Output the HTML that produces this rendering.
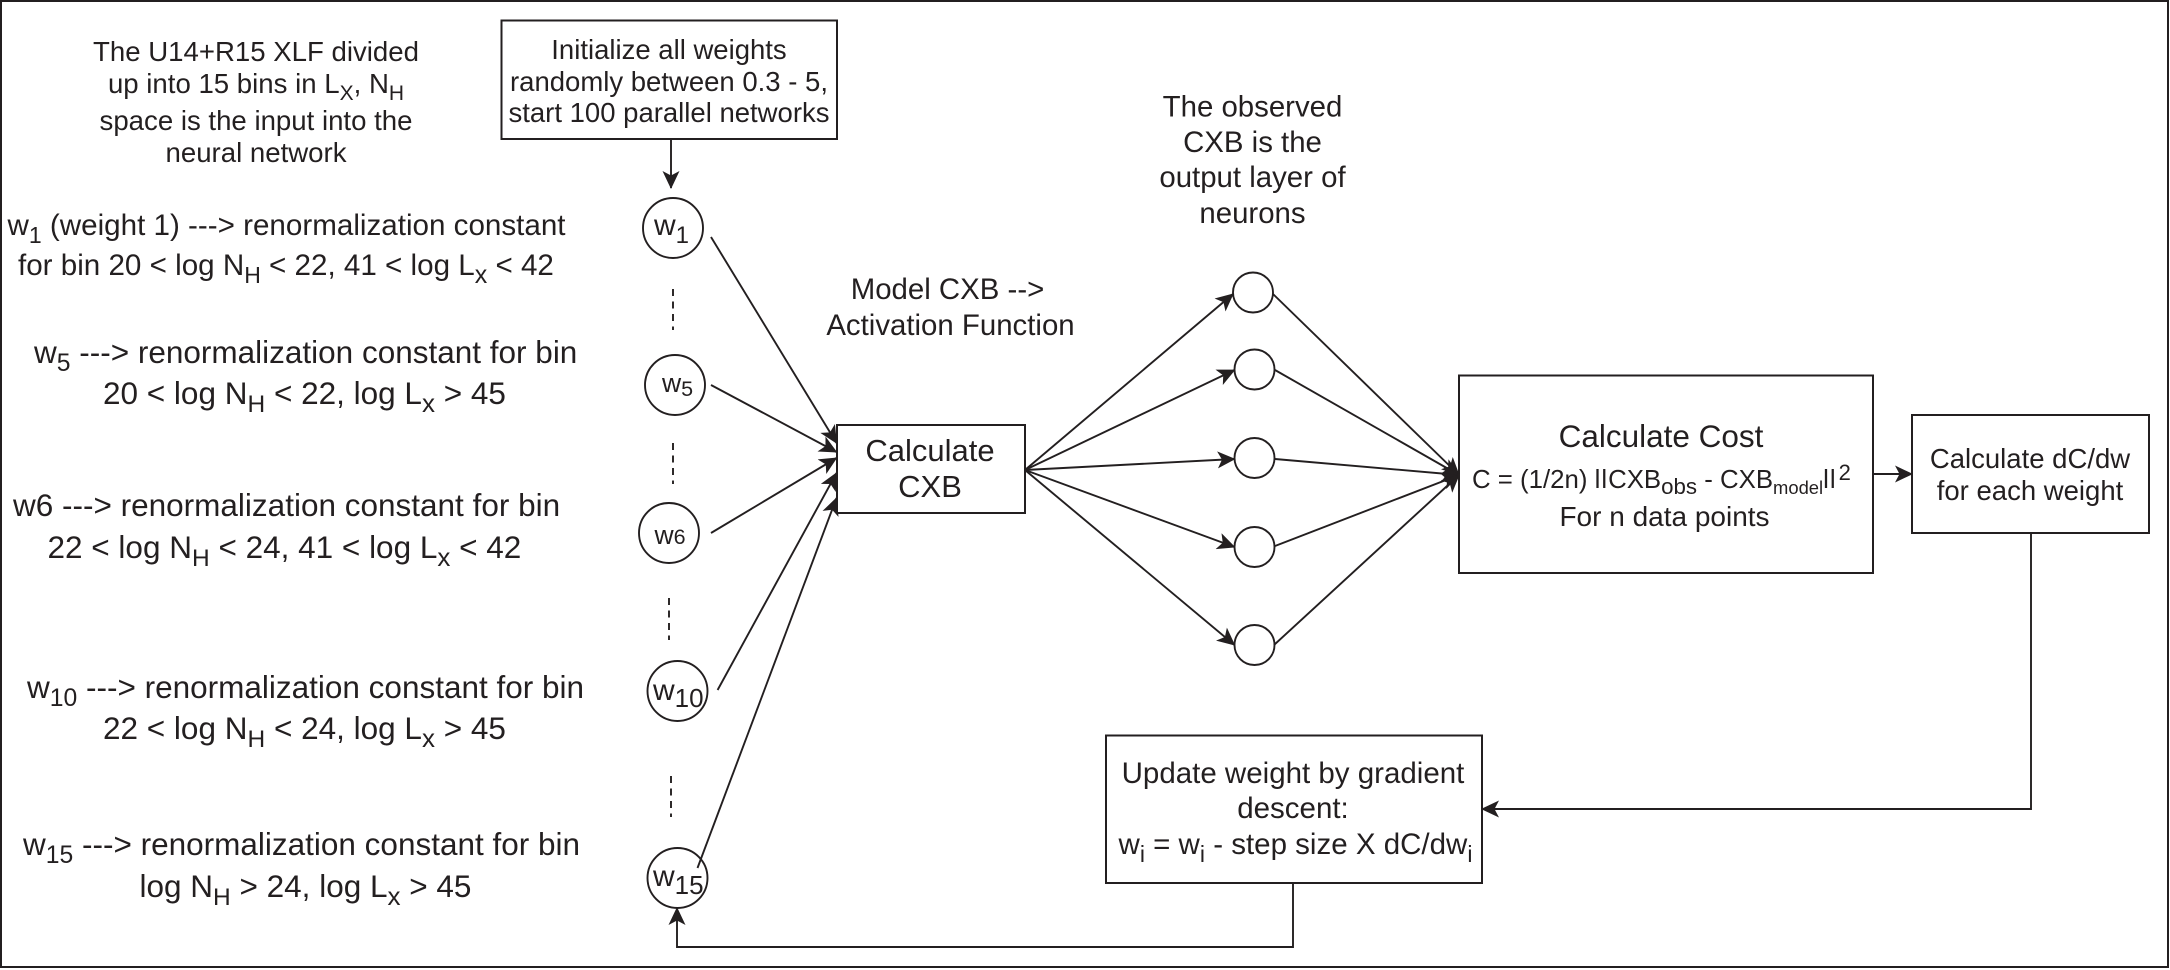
<!DOCTYPE html>
<html><head><meta charset="utf-8"><style>
html,body{margin:0;padding:0;background:#fff}
svg{display:block}
text{font-family:"Liberation Sans",Arial,sans-serif;fill:#231f20}
.l{fill:none;stroke:#231f20;stroke-width:1.9}
.b{fill:#fff;stroke:#231f20;stroke-width:2}
.d{fill:none;stroke:#231f20;stroke-width:1.9;stroke-dasharray:7 5.5}
</style></head><body>
<svg width="2170" height="970" viewBox="0 0 2170 970" xmlns="http://www.w3.org/2000/svg">
<defs><marker id="a" markerUnits="userSpaceOnUse" markerWidth="18" markerHeight="17" viewBox="0 0 18 17" refX="17" refY="8.5" orient="auto"><path d="M0,0 L18,8.5 L0,17 L4.5,8.5z" fill="#231f20"/></marker></defs>
<rect width="2170" height="970" fill="#fff"/>
<rect x="1" y="1" width="2167" height="966" fill="none" stroke="#231f20" stroke-width="2"/>

<!-- lines -->
<line class="l" x1="671" y1="139" x2="671" y2="188" marker-end="url(#a)"/>
<line class="l" x1="711" y1="237" x2="836.5" y2="443" marker-end="url(#a)"/>
<line class="l" x1="711" y1="385" x2="836.5" y2="452" marker-end="url(#a)"/>
<line class="l" x1="711" y1="533" x2="836.5" y2="458" marker-end="url(#a)"/>
<line class="l" x1="717.6" y1="690" x2="836.5" y2="473" marker-end="url(#a)"/>
<line class="l" x1="697.5" y1="868" x2="836.5" y2="498" marker-end="url(#a)"/>
<line class="d" x1="673" y1="289" x2="673" y2="330"/>
<line class="d" x1="673" y1="443" x2="673" y2="484"/>
<line class="d" x1="669" y1="598" x2="669" y2="640"/>
<line class="d" x1="671" y1="776" x2="671" y2="817"/>

<line class="l" x1="1025" y1="470" x2="1233" y2="294" marker-end="url(#a)"/>
<line class="l" x1="1025" y1="470" x2="1234.5" y2="370" marker-end="url(#a)"/>
<line class="l" x1="1025" y1="470" x2="1234.5" y2="459" marker-end="url(#a)"/>
<line class="l" x1="1025" y1="470" x2="1234.5" y2="547" marker-end="url(#a)"/>
<line class="l" x1="1025" y1="470" x2="1234.5" y2="645" marker-end="url(#a)"/>
<line class="l" x1="1273" y1="294" x2="1459" y2="475" marker-end="url(#a)"/>
<line class="l" x1="1275" y1="370" x2="1459" y2="475" marker-end="url(#a)"/>
<line class="l" x1="1275" y1="459" x2="1459" y2="475" marker-end="url(#a)"/>
<line class="l" x1="1275" y1="546" x2="1459" y2="475" marker-end="url(#a)"/>
<line class="l" x1="1274" y1="645" x2="1459" y2="475" marker-end="url(#a)"/>
<line class="l" x1="1873" y1="474" x2="1912" y2="474" marker-end="url(#a)"/>
<polyline class="l" points="2031,533 2031,809 1482,809" marker-end="url(#a)"/>
<polyline class="l" points="1293,883 1293,947 677,947 677,908" marker-end="url(#a)"/>

<!-- boxes -->
<rect class="b" x="501.5" y="20.5" width="335.5" height="118.5"/>
<rect class="b" x="837" y="425" width="188" height="88"/>
<rect class="b" x="1459" y="375.5" width="414" height="197.5"/>
<rect class="b" x="1912" y="415" width="237" height="118"/>
<rect class="b" x="1106" y="735.5" width="376" height="147.5"/>

<!-- circles -->
<g fill="none" stroke="#231f20" stroke-width="1.9">
<ellipse cx="673" cy="228" rx="30" ry="30"/>
<ellipse cx="675" cy="385" rx="30" ry="30"/>
<ellipse cx="669" cy="533" rx="30" ry="30"/>
<ellipse cx="677.5" cy="691" rx="30" ry="30"/>
<ellipse cx="677.5" cy="878" rx="30" ry="30"/>
<circle cx="1253" cy="292.5" r="20"/>
<circle cx="1254.5" cy="369.5" r="20"/>
<circle cx="1254.5" cy="458" r="20"/>
<circle cx="1254.5" cy="547" r="20"/>
<circle cx="1254.5" cy="645" r="20"/>
</g>
<text x="654" y="235" font-size="30">w<tspan font-size="24" dy="8">1</tspan></text>
<text x="662" y="392" font-size="26.5">w<tspan font-size="21.5" dy="4">5</tspan></text>
<text x="654.5" y="544" font-size="26.5">w<tspan font-size="21.5">6</tspan></text>
<text x="653" y="700" font-size="30">w<tspan font-size="26" dy="7">10</tspan></text>
<text x="653" y="886" font-size="30">w<tspan font-size="26" dy="8">15</tspan></text>

<!-- init -->
<g font-size="27.5">
<text x="669" y="59" text-anchor="middle">Initialize all weights</text>
<text x="669" y="91" text-anchor="middle">randomly between 0.3 - 5,</text>
<text x="669" y="122" text-anchor="middle">start 100 parallel networks</text>
</g>

<!-- top-left note -->
<g font-size="27.6">
<text x="256" y="61" text-anchor="middle">The U14+R15 XLF divided</text>
<text x="256" y="93" text-anchor="middle">up into 15 bins in L<tspan font-size="21" dy="7">X</tspan><tspan dy="-7">, N</tspan><tspan font-size="21" dy="7">H</tspan></text>
<text x="256" y="130" text-anchor="middle">space is the input into the</text>
<text x="256" y="162" text-anchor="middle">neural network</text>
</g>

<!-- weights text -->
<g font-size="29.6">
<text x="7.5" y="235">w<tspan font-size="23" dy="8">1</tspan><tspan dy="-8"> (weight 1) ---&gt; renormalization constant</tspan></text>
<text x="18" y="275">for bin 20 &lt; log N<tspan font-size="23" dy="8">H</tspan><tspan dy="-8"> &lt; 22, 41 &lt; log L</tspan><tspan font-size="25" dy="8">x</tspan><tspan dy="-8"> &lt; 42</tspan></text>
</g>
<g font-size="31.5">
<text x="34" y="363">w<tspan font-size="24.7" dy="8">5</tspan><tspan dy="-8"> ---&gt; renormalization constant for bin</tspan></text>
<text x="103" y="404">20 &lt; log N<tspan font-size="24.5" dy="8">H</tspan><tspan dy="-8"> &lt; 22, log L</tspan><tspan font-size="26" dy="8">x</tspan><tspan dy="-8"> &gt; 45</tspan></text>
<text x="13" y="516">w6 ---&gt; renormalization constant for bin</text>
<text x="47.5" y="558">22 &lt; log N<tspan font-size="24.5" dy="8">H</tspan><tspan dy="-8"> &lt; 24, 41 &lt; log L</tspan><tspan font-size="26" dy="8">x</tspan><tspan dy="-8"> &lt; 42</tspan></text>
<text x="27" y="698">w<tspan font-size="24.7" dy="8">10</tspan><tspan dy="-8"> ---&gt; renormalization constant for bin</tspan></text>
<text x="103" y="739">22 &lt; log N<tspan font-size="24.5" dy="8">H</tspan><tspan dy="-8"> &lt; 24, log L</tspan><tspan font-size="26" dy="8">x</tspan><tspan dy="-8"> &gt; 45</tspan></text>
<text x="23" y="855">w<tspan font-size="24.7" dy="8">15</tspan><tspan dy="-8"> ---&gt; renormalization constant for bin</tspan></text>
<text x="139.5" y="897">log N<tspan font-size="24.5" dy="8">H</tspan><tspan dy="-8"> &gt; 24, log L</tspan><tspan font-size="26" dy="8">x</tspan><tspan dy="-8"> &gt; 45</tspan></text>
</g>

<!-- middle -->
<g font-size="29.4">
<text x="947.5" y="299" text-anchor="middle">Model CXB --&gt;</text>
<text x="950.5" y="335" text-anchor="middle">Activation Function</text>
<text x="1252.5" y="116.5" text-anchor="middle">The observed</text>
<text x="1252.5" y="152" text-anchor="middle">CXB is the</text>
<text x="1252.5" y="187" text-anchor="middle">output layer of</text>
<text x="1252.5" y="223" text-anchor="middle">neurons</text>
</g>
<text x="930" y="461" font-size="31" text-anchor="middle">Calculate</text>
<text x="930" y="497" font-size="31" text-anchor="middle">CXB</text>

<!-- cost -->
<text x="1661" y="447" font-size="31.5" text-anchor="middle">Calculate Cost</text>
<text x="1472" y="488" font-size="25.8">C = (1/2n) <tspan letter-spacing="1">ll</tspan>CXB<tspan font-size="22.3" dy="6">obs</tspan><tspan dy="-6"> - CXB</tspan><tspan font-size="18.4" dy="6">model</tspan><tspan dy="-6" letter-spacing="1">ll</tspan><tspan font-size="22" dy="-8" dx="2">2</tspan></text>
<text x="1664.5" y="526" font-size="28" text-anchor="middle">For n data points</text>

<!-- dC -->
<text x="2030" y="468" font-size="27.5" text-anchor="middle">Calculate dC/dw</text>
<text x="2030" y="500" font-size="27.5" text-anchor="middle">for each weight</text>

<!-- update -->
<g font-size="29.5">
<text x="1293" y="783" text-anchor="middle">Update weight by gradient</text>
<text x="1293" y="818" text-anchor="middle">descent:</text>
<text x="1118.5" y="854">w<tspan font-size="23" dy="8">i</tspan><tspan dy="-8"> = w</tspan><tspan font-size="23" dy="8">i</tspan><tspan dy="-8"> - step size X dC/dw</tspan><tspan font-size="23" dy="8">i</tspan></text>
</g>
</svg>
</body></html>
